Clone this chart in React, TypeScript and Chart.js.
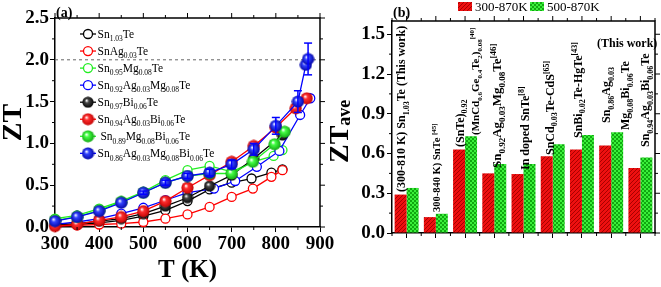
import React, { useEffect, useRef } from 'react';
import { Chart, registerables } from 'chart.js';

Chart.register(...registerables);

const SERIF = '"Liberation Serif", "Times New Roman", Times, serif';
Chart.defaults.font.family = SERIF;

// ---------------- Panel (a) data ----------------
const SERIES_A_NAMES = [
  'Sn_{1.03}Te',
  'SnAg_{0.03}Te',
  'Sn_{0.95}Mg_{0.08}Te',
  'Sn_{0.92}Ag_{0.03}Mg_{0.08}Te',
  'Sn_{0.97}Bi_{0.06}Te',
  'Sn_{0.94}Ag_{0.03}Bi_{0.06}Te',
  ' Sn_{0.89}Mg_{0.08}Bi_{0.06}Te',
  'Sn_{0.86}Ag_{0.03}Mg_{0.08}Bi_{0.06}Te',
];

const T_SN103TE = [300, 350, 400, 450, 500, 550, 600, 650, 700, 745, 790, 815];
const ZT_SN103TE = [0.02, 0.03, 0.05, 0.08, 0.13, 0.2, 0.31, 0.45, 0.53, 0.58, 0.65, 0.69];

const T_SNAG = [300, 350, 400, 450, 500, 550, 600, 650, 700, 748, 790, 815];
const ZT_SNAG = [0.01, 0.02, 0.03, 0.04, 0.06, 0.1, 0.15, 0.24, 0.36, 0.46, 0.6, 0.68];

const T_SNMG = [300, 350, 400, 450, 500, 550, 600, 650, 700, 748, 795, 815];
const ZT_SNMG = [0.1, 0.14, 0.22, 0.31, 0.42, 0.56, 0.68, 0.73, 0.66, 0.78, 0.85, 0.92];

const T_SNAGMG = [300, 350, 400, 450, 500, 550, 600, 660, 708, 757, 808, 855, 878];
const ZT_SNAGMG = [0.03, 0.06, 0.1, 0.16, 0.23, 0.32, 0.41, 0.46, 0.55, 0.72, 0.91, 1.34, 1.54];

const T_SNBI = [300, 350, 400, 450, 500, 550, 600, 650, 700, 750, 815];
const ZT_SNBI = [0.02, 0.04, 0.07, 0.1, 0.16, 0.25, 0.35, 0.49, 0.62, 0.82, 1.1];

const T_SNAGBI = [300, 350, 400, 450, 500, 550, 600, 650, 700, 750, 800, 845, 870];
const ZT_SNAGBI = [0.01, 0.03, 0.08, 0.12, 0.19, 0.31, 0.47, 0.62, 0.78, 0.97, 1.19, 1.42, 1.54];

const T_SNMGBI = [300, 350, 400, 450, 500, 550, 600, 650, 700, 748, 797, 820];
const ZT_SNMGBI = [0.08, 0.12, 0.2, 0.3, 0.41, 0.53, 0.61, 0.64, 0.64, 0.78, 0.99, 1.14];

const T_SNAGMGBI = [300, 350, 400, 450, 500, 550, 600, 650, 700, 750, 800, 850, 868, 873];
const ZT_SNAGMGBI = [0.07, 0.12, 0.19, 0.29, 0.41, 0.53, 0.61, 0.65, 0.75, 0.93, 1.21, 1.5, 1.94, 2.01];
const ERR_SNAGMGBI = [0, 0, 0, 0, 0.02, 0.03, 0.03, 0.04, 0.05, 0.07, 0.1, 0.13, 0, 0.19];

const REF_ZT = 2.0;

const SERIES_A_T = [T_SN103TE, T_SNAG, T_SNMG, T_SNAGMG, T_SNBI, T_SNAGBI, T_SNMGBI, T_SNAGMGBI];
const SERIES_A_ZT = [ZT_SN103TE, ZT_SNAG, ZT_SNMG, ZT_SNAGMG, ZT_SNBI, ZT_SNAGBI, ZT_SNMGBI, ZT_SNAGMGBI];

// ---------------- Panel (b) data ----------------
const B_CATEGORIES = [
  'Sn1.03Te (This work)',
  'SnTe [45]',
  '(SnTe)0.92(MnCd0.6Ge0.4Te2)0.08 [40]',
  'Sn0.92Ag0.03Mg0.08Te [46]',
  'In doped SnTe [8]',
  'SnCd0.03Te-CdS [65]',
  'SnBi0.02Te-HgTe [43]',
  'Sn0.86Ag0.03Mg0.08Bi0.06Te (This work)',
  'Sn0.94Ag0.03Bi0.06Te',
];
const ZT_AVE_300_870 = [0.29, 0.12, 0.63, 0.45, 0.445, 0.58, 0.63, 0.66, 0.49];
const ZT_AVE_500_870 = [0.34, 0.145, 0.73, 0.52, 0.52, 0.67, 0.74, 0.76, 0.57];
const B_SERIES_NAMES = ['300-870K', '500-870K'];
const YB_TICKS = [0, 0.3, 0.6, 0.9, 1.2, 1.5];

const B_NOTE_TEXTS = [
  '(300-810 K) Sn_{1.03}Te (This work)',
  '300-840 K) SnTe ^{[45]}',
  '(SnTe)_{0.92}',
  '(MnCd_{0.6}Ge_{0.4}Te_{2})_{0.08}^{[40]}',
  'Sn_{0.92}Ag_{0.03}Mg_{0.08}Te^{[46]}',
  'In doped SnTe^{[8]}',
  'SnCd_{0.03}Te-CdS^{[65]}',
  'SnBi_{0.02}Te-HgTe^{[43]}',
  'Sn_{0.86}Ag_{0.03}',
  'Mg_{0.08}Bi_{0.06}Te',
  'Sn_{0.94}Ag_{0.03}Bi_{0.06}Te',
];
// layout of the notes: category index, x offset from category centre, bottom y, font size
const NOTE_LAYOUT = [
  { cat: 0, dx: -5, y: 192, size: 12 },
  { cat: 1, dx: 1, y: 212, size: 10.5 },
  { cat: 2, dx: -5, y: 147, size: 12 },
  { cat: 2, dx: 10.5, y: 135, size: 11 },
  { cat: 3, dx: 3, y: 168, size: 13 },
  { cat: 4, dx: 1.5, y: 170, size: 12 },
  { cat: 5, dx: -2.5, y: 155, size: 12 },
  { cat: 6, dx: -4, y: 138, size: 12 },
  { cat: 7, dx: -4.5, y: 123, size: 12 },
  { cat: 7, dx: 14.5, y: 130, size: 12 },
  { cat: 8, dx: 5.5, y: 147, size: 12 },
];

// ---------------- rich text helpers ----------------
type Seg = { t: string; k: 'n' | 'sub' | 'sup' };
function parseRich(s: string): Seg[] {
  const out: Seg[] = [];
  let i = 0;
  let buf = '';
  while (i < s.length) {
    const c = s[i];
    if ((c === '_' || c === '^') && s[i + 1] === '{') {
      if (buf) {
        out.push({ t: buf, k: 'n' });
        buf = '';
      }
      const end = s.indexOf('}', i + 2);
      out.push({ t: s.slice(i + 2, end), k: c === '_' ? 'sub' : 'sup' });
      i = end + 1;
    } else {
      buf += c;
      i++;
    }
  }
  if (buf) out.push({ t: buf, k: 'n' });
  return out;
}

function drawRich(
  ctx: CanvasRenderingContext2D,
  s: string,
  x: number,
  y: number,
  size: number,
  sub: number,
  bold: boolean,
  color: string
) {
  let cx = x;
  ctx.fillStyle = color;
  ctx.textBaseline = 'alphabetic';
  ctx.textAlign = 'left';
  for (const sg of parseRich(s)) {
    const fs = sg.k === 'n' ? size : sub;
    ctx.font = `${bold ? 'bold ' : ''}${fs}px ${SERIF}`;
    const dy = sg.k === 'sub' ? size * 0.28 : sg.k === 'sup' ? -size * 0.42 : 0;
    ctx.fillText(sg.t, cx, y + dy);
    cx += ctx.measureText(sg.t).width;
  }
  return cx - x;
}

function drawVert(ctx: CanvasRenderingContext2D, s: string, cx: number, yBottom: number, size: number) {
  ctx.save();
  ctx.translate(cx + size * 0.3, yBottom);
  ctx.rotate(-Math.PI / 2);
  drawRich(ctx, s, 0, 0, size, Math.round(size * 0.68), true, '#000');
  ctx.restore();
}

function ball(color: string, dark: string, size = 13) {
  const c = document.createElement('canvas');
  c.width = size;
  c.height = size;
  const g = c.getContext('2d')!;
  const r = size / 2;
  const grad = g.createRadialGradient(r * 0.75, r * 0.7, 0.3, r, r, r);
  grad.addColorStop(0, '#ffffff');
  grad.addColorStop(0.3, color);
  grad.addColorStop(1, dark);
  g.fillStyle = grad;
  g.beginPath();
  g.arc(r, r, r - 0.4, 0, Math.PI * 2);
  g.fill();
  return c;
}

function line(ctx: CanvasRenderingContext2D, x1: number, y1: number, x2: number, y2: number) {
  ctx.beginPath();
  ctx.moveTo(x1, y1);
  ctx.lineTo(x2, y2);
  ctx.stroke();
}

const COLORS = ['#000000', '#ff0000', '#22ee22', '#0000ff', '#000000', '#ff0000', '#22ee22', '#0000ff'];
const DARKS = ['#000000', '#c00000', '#10a010', '#0000a0', '#000000', '#c00000', '#10a010', '#0000a0'];
const MIDS = ['#444444', '#ff3030', '#44ff44', '#3344ff', '#444444', '#ff3030', '#44ff44', '#3344ff'];

export default function App() {
  const refA = useRef<HTMLCanvasElement | null>(null);
  const refB = useRef<HTMLCanvasElement | null>(null);

  useEffect(() => {
    const balls = COLORS.map((c, i) => ball(MIDS[i], DARKS[i], i === 4 ? 12 : 13));
    const tickFont = { family: SERIF, size: 19, weight: 'bold' as const };

    const datasets = SERIES_A_T.map((ts, si) => {
      const filled = si >= 4;
      return {
        label: SERIES_A_NAMES[si],
        data: ts.map((t, i) => ({ x: t, y: SERIES_A_ZT[si][i] })),
        borderColor: COLORS[si],
        borderWidth: 1.3,
        tension: 0,
        clip: false as any,
        pointStyle: filled ? (balls[si] as any) : 'circle',
        pointRadius: 4.5,
        pointBorderWidth: 1.3,
        pointBorderColor: COLORS[si],
        pointBackgroundColor: '#ffffff',
        order: 8 - si,
      };
    });

    const pluginA = {
      id: 'decorA',
      beforeDatasetsDraw(chart: any) {
        const { ctx, chartArea: a, scales } = chart;
        const y = scales.y.getPixelForValue(REF_ZT);
        ctx.save();
        ctx.strokeStyle = '#666';
        ctx.lineWidth = 1;
        ctx.setLineDash([3, 3]);
        line(ctx, a.left, y, a.right, y);
        ctx.restore();
      },
      afterDatasetsDraw(chart: any) {
        const { ctx, scales } = chart;
        ctx.save();
        ctx.strokeStyle = '#0000ff';
        ctx.lineWidth = 1.5;
        T_SNAGMGBI.forEach((t, i) => {
          const e = ERR_SNAGMGBI[i];
          if (!e) return;
          const px = scales.x.getPixelForValue(t);
          const y1 = scales.y.getPixelForValue(ZT_SNAGMGBI[i] + e);
          const y2 = scales.y.getPixelForValue(ZT_SNAGMGBI[i] - e);
          line(ctx, px, y1, px, y2);
          line(ctx, px - 4, y1, px + 4, y1);
          line(ctx, px - 4, y2, px + 4, y2);
        });
        ctx.restore();
      },
      afterDraw(chart: any) {
        const { ctx, chartArea: a, scales } = chart;
        ctx.save();
        ctx.strokeStyle = '#000';
        ctx.lineWidth = 1.5;
        ctx.beginPath();
        ctx.moveTo(a.left, a.top);
        ctx.lineTo(a.right, a.top);
        ctx.lineTo(a.right, a.bottom);
        ctx.stroke();
        ctx.lineWidth = 1;
        for (let v = 300; v <= 900; v += 50) {
          const px = scales.x.getPixelForValue(v);
          const major = v % 100 === 0;
          const L = major ? 5 : 3;
          line(ctx, px, a.top, px, a.top - L);
          if (!major) line(ctx, px, a.bottom, px, a.bottom + L);
        }
        for (let k = 0; k <= 10; k++) {
          const v = k * 0.25;
          const py = scales.y.getPixelForValue(v);
          const major = k % 2 === 0;
          const L = major ? 5 : 3;
          line(ctx, a.right, py, a.right + L, py);
          if (!major) line(ctx, a.left, py, a.left - L, py);
        }
        // panel label
        ctx.fillStyle = '#000';
        ctx.font = `bold 14px ${SERIF}`;
        ctx.textBaseline = 'middle';
        ctx.textAlign = 'left';
        ctx.fillText('(a)', 56, 13);
        // legend
        SERIES_A_NAMES.forEach((name, i) => {
          const yy = 34 + i * 17.05;
          ctx.strokeStyle = COLORS[i];
          ctx.lineWidth = 1.3;
          line(ctx, 80, yy, 96, yy);
          if (i >= 4) {
            const b = balls[i];
            ctx.drawImage(b, 88 - b.width / 2, yy - b.height / 2);
          } else {
            ctx.beginPath();
            ctx.arc(88, yy, 4.5, 0, Math.PI * 2);
            ctx.fillStyle = '#fff';
            ctx.fill();
            ctx.stroke();
          }
          drawRich(ctx, name, 97.5, yy + 4, 11.5, 7.5, false, '#000');
        });
        ctx.restore();
      },
    };

    const chartA = new Chart(refA.current!, {
      type: 'line',
      data: { datasets: datasets as any },
      plugins: [pluginA],
      options: {
        animation: false,
        responsive: false,
        maintainAspectRatio: false,
        layout: { padding: { top: 18, right: 25, left: 0, bottom: 0 } },
        plugins: { legend: { display: false }, tooltip: { enabled: false } },
        scales: {
          x: {
            type: 'linear',
            min: 300,
            max: 900,
            ticks: { stepSize: 100, font: tickFont, color: '#000', padding: 1, maxRotation: 0 },
            grid: { drawOnChartArea: false, tickLength: 5, color: '#000', lineWidth: 1 },
            border: { color: '#000', width: 1.5 },
            title: {
              display: true,
              text: 'T (K)',
              color: '#000',
              font: { family: SERIF, size: 25, weight: 'bold', lineHeight: 1 },
              padding: { top: 0, bottom: 4 },
            },
            afterFit: (s: any) => {
              s.height = 60;
            },
          },
          y: {
            min: 0,
            max: 2.5,
            ticks: {
              stepSize: 0.5,
              font: tickFont,
              color: '#000',
              padding: 1,
              callback: (v: any) => Number(v).toFixed(1),
            },
            grid: { drawOnChartArea: false, tickLength: 5, color: '#000', lineWidth: 1 },
            border: { color: '#000', width: 1.5 },
            title: {
              display: true,
              text: 'ZT',
              color: '#000',
              font: { family: SERIF, size: 28, weight: 'bold', lineHeight: 1 },
              padding: { top: 0, bottom: 0 },
            },
            afterFit: (s: any) => {
              s.width = 55;
            },
          },
        },
      } as any,
    });

    // ---------------- Panel (b) ----------------
    const ctxB = refB.current!.getContext('2d')!;
    const rc = document.createElement('canvas');
    rc.width = 4;
    rc.height = 4;
    const rg = rc.getContext('2d')!;
    rg.fillStyle = '#ee1010';
    rg.fillRect(0, 0, 4, 4);
    rg.fillStyle = '#a80000';
    for (let i = 0; i < 4; i++) rg.fillRect(i, 3 - i, 1, 1);
    const redPat = ctxB.createPattern(rc, 'repeat')!;

    const gc = document.createElement('canvas');
    gc.width = 4;
    gc.height = 4;
    const gg = gc.getContext('2d')!;
    gg.fillStyle = '#3af03a';
    gg.fillRect(0, 0, 4, 4);
    gg.fillStyle = '#10a810';
    gg.fillRect(0, 0, 2, 2);
    gg.fillRect(2, 2, 2, 2);
    const greenPat = ctxB.createPattern(gc, 'repeat')!;

    const pluginB = {
      id: 'decorB',
      afterDraw(chart: any) {
        const { ctx, chartArea: a, scales } = chart;
        ctx.save();
        ctx.strokeStyle = '#000';
        ctx.lineWidth = 1.5;
        ctx.beginPath();
        ctx.moveTo(a.left, a.top);
        ctx.lineTo(a.right, a.top);
        ctx.lineTo(a.right, a.bottom);
        ctx.stroke();
        ctx.lineWidth = 1;
        const n = B_CATEGORIES.length;
        const cw = (a.right - a.left) / n;
        for (let i = 0; i <= n; i++) {
          const px = a.left + i * cw;
          line(ctx, px, a.bottom, px, a.bottom + 3);
          line(ctx, px, a.top, px, a.top - 3);
          if (i < n) {
            const c = scales.x.getPixelForValue(i);
            line(ctx, c, a.top, c, a.top - 5);
          }
        }
        for (let k = 0; k <= 10; k++) {
          const v = k * 0.15;
          const py = scales.y.getPixelForValue(v);
          const major = k % 2 === 0;
          const L = major ? 5 : 3;
          line(ctx, a.right, py, a.right + L, py);
          if (!major) line(ctx, a.left, py, a.left - L, py);
        }
        // notes
        NOTE_LAYOUT.forEach((nl, i) => {
          const cx = scales.x.getPixelForValue(nl.cat) + nl.dx;
          drawVert(ctx, B_NOTE_TEXTS[i], cx, nl.y, nl.size);
        });
        ctx.fillStyle = '#000';
        ctx.font = `bold 12px ${SERIF}`;
        ctx.textAlign = 'center';
        ctx.textBaseline = 'middle';
        ctx.fillText('(This work)', scales.x.getPixelForValue(7) + 16, 44);
        // panel label
        ctx.font = `bold 14px ${SERIF}`;
        ctx.textAlign = 'left';
        ctx.fillText('(b)', 63, 13);
        // y title ZT_ave
        ctx.save();
        ctx.translate(18, 163);
        ctx.rotate(-Math.PI / 2);
        ctx.fillStyle = '#000';
        ctx.font = `bold 28px ${SERIF}`;
        ctx.textBaseline = 'alphabetic';
        ctx.fillText('ZT', 0, 0);
        const w = ctx.measureText('ZT').width;
        ctx.font = `bold 18px ${SERIF}`;
        ctx.fillText('ave', w, 2);
        ctx.restore();
        // legend
        ctx.fillStyle = redPat;
        ctx.fillRect(128, 2, 14, 9);
        ctx.fillStyle = greenPat;
        ctx.fillRect(200, 2, 14, 9);
        ctx.fillStyle = '#000';
        ctx.font = `13px ${SERIF}`;
        ctx.textAlign = 'left';
        ctx.textBaseline = 'middle';
        ctx.fillText(B_SERIES_NAMES[0], 145, 8);
        ctx.fillText(B_SERIES_NAMES[1], 217, 8);
        ctx.restore();
      },
    };

    const chartB = new Chart(refB.current!, {
      type: 'bar',
      data: {
        labels: B_CATEGORIES,
        datasets: [
          {
            label: B_SERIES_NAMES[0],
            data: ZT_AVE_300_870,
            backgroundColor: redPat as any,
            borderWidth: 0,
            categoryPercentage: 0.82,
            barPercentage: 1.0,
          },
          {
            label: B_SERIES_NAMES[1],
            data: ZT_AVE_500_870,
            backgroundColor: greenPat as any,
            borderWidth: 0,
            categoryPercentage: 0.82,
            barPercentage: 1.0,
          },
        ],
      },
      plugins: [pluginB],
      options: {
        animation: false,
        responsive: false,
        maintainAspectRatio: false,
        layout: { padding: { top: 21, right: 6, left: 0, bottom: 0 } },
        plugins: { legend: { display: false }, tooltip: { enabled: false } },
        scales: {
          x: {
            type: 'category',
            offset: true,
            ticks: { callback: () => '', padding: 0 },
            grid: { offset: false, drawOnChartArea: false, tickLength: 5, color: '#000', lineWidth: 1 },
            border: { color: '#000', width: 1.5 },
            afterFit: (s: any) => {
              s.height = 54;
            },
          },
          y: {
            min: 0,
            max: 1.6,
            afterBuildTicks: (s: any) => {
              s.ticks = YB_TICKS.map((v) => ({ value: v }));
            },
            ticks: {
              font: tickFont,
              color: '#000',
              padding: 2,
              callback: (v: any) => Number(v).toFixed(1),
            },
            grid: { drawOnChartArea: false, tickLength: 5, color: '#000', lineWidth: 1 },
            border: { color: '#000', width: 1.5 },
            afterFit: (s: any) => {
              s.width = 62;
            },
          },
        },
      } as any,
    });

    return () => {
      chartA.destroy();
      chartB.destroy();
    };
  }, []);

  return (
    <div style={{ position: 'fixed', left: 0, top: 0, width: 661, height: 287, background: '#fff' }}>
      <canvas ref={refA} width={345} height={287} style={{ position: 'absolute', left: 0, top: 0 }} />
      <canvas ref={refB} width={331} height={287} style={{ position: 'absolute', left: 330, top: 0 }} />
    </div>
  );
}
